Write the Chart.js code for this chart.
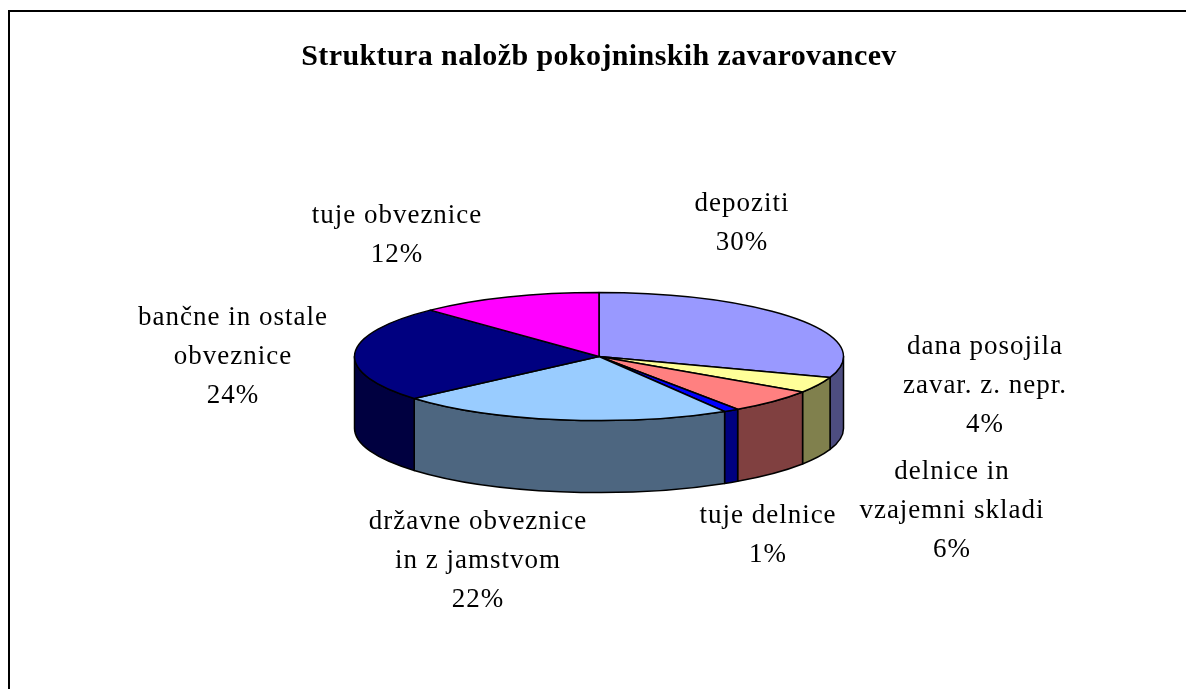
<!DOCTYPE html>
<html>
<head>
<meta charset="utf-8">
<title>Struktura naložb pokojninskih zavarovancev</title>
<script src="https://cdn.jsdelivr.net/npm/chart.js@4.4.1/dist/chart.umd.min.js"></script>
<style>
  html, body { margin: 0; padding: 0; background: #fff; }
  #wrap { width: 1186px; height: 689px; }
</style>
</head>
<body>
<div id="wrap"><canvas id="pie"></canvas></div>
<script>
//* Data
const categories = [
  ['depoziti'],
  ['dana posojila', 'zavar. z. nepr.'],
  ['delnice in', 'vzajemni skladi'],
  ['tuje delnice'],
  ['državne obveznice', 'in z jamstvom'],
  ['bančne in ostale', 'obveznice'],
  ['tuje obveznice'],
]
const shares = [30, 4, 6, 1, 22, 24, 12]
const colors = ['#9999FF', '#FFFF99', '#FF8080', '#0000FF', '#99CCFF', '#000080', '#FF00FF']

//? label block centre, offset from pie centre (px)
const labelOffsets = [
  [143, -133],
  [386, 29],
  [353, 154],
  [169, 179],
  [-121, 204],
  [-366, 0],
  [-202, -121],
]

//* 3D look
const tilt = 0.262     // ry / rx
const depth = 72       // wall height
const labelFont = '27px "Liberation Serif", "Times New Roman", serif'
const lineH = 39

// darker colour for the walls
const shade = hex => {
  let n = parseInt(hex.slice(1), 16)
  let r = (n >> 16) & 255, g = (n >> 8) & 255, b = n & 255
  return `rgb(${Math.round(r * 0.5)}, ${Math.round(g * 0.5)}, ${Math.round(b * 0.5)})`
}

const pie3d = {
  id: 'pie3d',
  beforeDraw(chart) {
    const ctx = chart.ctx
    ctx.save()
    ctx.fillStyle = '#fff'
    ctx.fillRect(0, 0, chart.width, chart.height)
    // frame
    ctx.strokeStyle = '#000'
    ctx.lineWidth = 2
    ctx.strokeRect(9, 11, 1300, 800)
    ctx.restore()
    // a bit of spacing for the title, closer to the Garamond look
    ctx.letterSpacing = '0.4px'
  },
  beforeDatasetsDraw(chart) {
    const ctx = chart.ctx
    const arcs = chart.getDatasetMeta(0).data
    ctx.save()
    ctx.lineWidth = 1.5
    ctx.strokeStyle = '#000'
    ctx.lineJoin = 'round'

    // front walls (canvas angles 0..PI are the near half)
    arcs.forEach((arc, i) => {
      const cx = arc.x, cy = arc.y, rx = arc.outerRadius, ry = rx * tilt
      let a0 = Math.max(arc.startAngle, 0)
      let a1 = Math.min(arc.endAngle, Math.PI)
      if (a1 <= a0) return
      ctx.beginPath()
      ctx.ellipse(cx, cy, rx, ry, 0, a0, a1, false)
      ctx.lineTo(cx + rx * Math.cos(a1), cy + ry * Math.sin(a1) + depth)
      ctx.ellipse(cx, cy + depth, rx, ry, 0, a1, a0, true)
      ctx.closePath()
      ctx.fillStyle = shade(colors[i])
      ctx.fill()
      ctx.stroke()
    })

    // top faces
    arcs.forEach((arc, i) => {
      const cx = arc.x, cy = arc.y, rx = arc.outerRadius, ry = rx * tilt
      ctx.beginPath()
      ctx.moveTo(cx, cy)
      ctx.ellipse(cx, cy, rx, ry, 0, arc.startAngle, arc.endAngle, false)
      ctx.closePath()
      ctx.fillStyle = colors[i]
      ctx.fill()
      ctx.stroke()
    })
    ctx.restore()
    return false
  },
  afterDraw(chart) {
    // data labels (afterDatasetsDraw is skipped once beforeDatasetsDraw returns false)
    const ctx = chart.ctx
    const arcs = chart.getDatasetMeta(0).data
    const total = shares.reduce((a, b) => a + b, 0)
    ctx.save()
    ctx.font = labelFont
    ctx.letterSpacing = '1px'
    ctx.fillStyle = '#000'
    ctx.textAlign = 'center'
    ctx.textBaseline = 'middle'
    arcs.forEach((arc, i) => {
      let lines = categories[i].concat([Math.round(shares[i] / total * 100) + '%'])
      let x = arc.x + labelOffsets[i][0]
      let y = arc.y + labelOffsets[i][1] - (lines.length - 1) * lineH / 2
      lines.forEach((t, k) => ctx.fillText(t, x, y + k * lineH))
    })
    ctx.restore()
  },
}

const ctx = document.getElementById('pie').getContext('2d')
const chart = new Chart(ctx, {
  type: 'pie',
  data: {
    labels: categories,
    datasets: [
      {
        data: shares,
        backgroundColor: colors,
        borderWidth: 0,
      },
    ],
  },
  options: {
    responsive: true,
    maintainAspectRatio: false,
    animation: false,
    events: [],
    // full-width area so the title is not squeezed; height sets the radius
    layout: { padding: { left: 12, right: 0, top: 0, bottom: 88 } },
    plugins: {
      legend: { display: false },
      tooltip: { enabled: false },
      title: {
        display: true,
        text: 'Struktura naložb pokojninskih zavarovancev',
        color: '#000',
        font: { family: '"Liberation Serif", "Times New Roman", serif', size: 30, weight: 'bold', lineHeight: 1.2 },
        padding: { top: 39, bottom: 37 },
      },
    },
  },
  plugins: [pie3d],
})
</script>
</body>
</html>
